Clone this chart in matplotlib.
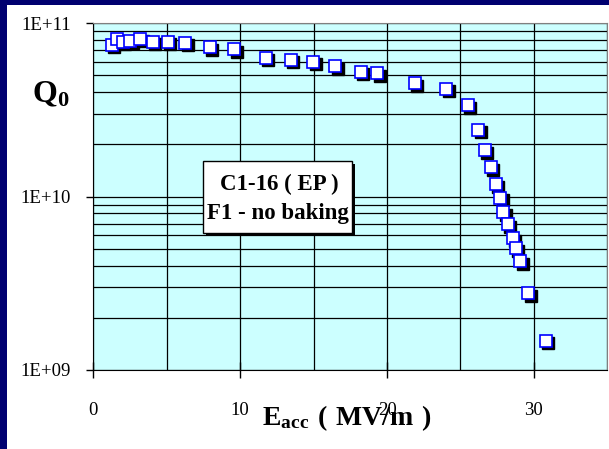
import matplotlib
matplotlib.use("Agg")
import matplotlib.pyplot as plt
import matplotlib.transforms as mtransforms
from matplotlib.patches import Rectangle
from matplotlib.ticker import LogLocator, FixedLocator, NullFormatter

plt.rcParams['font.family'] = ['Liberation Serif', 'DejaVu Serif']
plt.rcParams['mathtext.fontset'] = 'custom'
plt.rcParams['mathtext.rm'] = 'Liberation Serif'
plt.rcParams['mathtext.bf'] = 'Liberation Serif:bold'

# E_acc (MV/m) and Q0
eacc = [1.25, 1.64, 2.0, 2.5, 3.18, 4.05, 5.07, 6.27, 7.94, 9.61,
        11.75, 13.46, 14.98, 16.48, 18.2, 19.32, 21.89, 24.05, 25.5, 26.2,
        26.66, 27.05, 27.41, 27.71, 27.93, 28.23, 28.55, 28.77, 29.07, 29.62,
        30.8]
q0 = [7.50e10, 8.09e10, 7.83e10, 7.94e10, 8.15e10, 7.83e10, 7.83e10, 7.70e10, 7.27e10, 7.08e10,
      6.33e10, 6.17e10, 6.00e10, 5.67e10, 5.26e10, 5.15e10, 4.50e10, 4.18e10, 3.36e10, 2.43e10,
      1.85e10, 1.48e10, 1.18e10, 9.86e9, 8.15e9, 6.95e9, 5.74e9, 5.03e9, 4.23e9, 2.77e9,
      1.47e9]

xticks = [0, 10, 20, 30]
yticks = [1e9, 1e10, 1e11]
ylabels = ['1E+09', '1E+10', '1E+11']

W, H = 609, 449
fig = plt.figure(figsize=(W / 100, H / 100), dpi=100)
fig.patch.set_facecolor('#000070')
fig.patches.append(Rectangle((7 / W, 0), 1, 1 - 5 / H, transform=fig.transFigure,
                             facecolor='white', edgecolor='none', zorder=-1))

ax = fig.add_axes([93.3 / W, 1 - 370 / H, 514 / W, 346.7 / H])
ax.set_facecolor('#CCFFFF')
ax.set_yscale('log')
ax.set_xlim(0, 35)
ax.set_ylim(1e9, 1e11)

ax.xaxis.set_major_locator(FixedLocator(xticks))
ax.xaxis.set_minor_locator(FixedLocator([5, 15, 25, 35]))
ax.yaxis.set_major_locator(FixedLocator(yticks))
ax.set_yticklabels(ylabels)
ax.yaxis.set_minor_locator(LogLocator(base=10, subs=range(2, 10)))
ax.yaxis.set_minor_formatter(NullFormatter())

ax.grid(True, which='both', color='black', lw=0.9)
ax.set_axisbelow(True)
ax.tick_params(axis='x', which='major', direction='inout', length=12, width=1, pad=17, labelsize=13.5)
ax.tick_params(axis='x', which='minor', length=0)
ax.tick_params(axis='y', which='major', direction='out', length=5, width=1, pad=11, labelsize=13.5)
ax.tick_params(axis='y', which='minor', length=0)

for s in ['top', 'right']:
    ax.spines[s].set_color('#808080')
for s in ['left', 'bottom']:
    ax.spines[s].set_color('black')

shadow = mtransforms.offset_copy(ax.transData, fig=fig, x=2.5, y=-2.5, units='dots')
ax.plot(eacc, q0, 's', ms=8, mfc='black', mec='black', transform=shadow, zorder=3, clip_on=False)
ax.plot(eacc, q0, 's', ms=8, mfc='white', mec='#0000FF', mew=1.2, zorder=4, clip_on=False)

# annotation box with shadow
bx0, by0, bx1, by1 = 202.7, 161, 352.3, 233.3
fig.patches.append(Rectangle(((bx0 + 3) / W, 1 - (by1 + 3) / H), (bx1 - bx0) / W, (by1 - by0) / H,
                             transform=fig.transFigure, facecolor='black', edgecolor='none', zorder=5))
fig.patches.append(Rectangle((bx0 / W, 1 - by1 / H), (bx1 - bx0) / W, (by1 - by0) / H,
                             transform=fig.transFigure, facecolor='white', edgecolor='black',
                             lw=1, zorder=6))
fig.text((bx0 + bx1) / 2 / W + 0.003, 1 - 184 / H, 'C1-16 ( EP )', ha='center', va='center',
         fontsize=16.5, fontweight='bold', zorder=7)
fig.text((bx0 + bx1) / 2 / W, 1 - 214 / H, 'F1 - no baking', ha='center', va='center',
         fontsize=16.5, fontweight='bold', zorder=7)

fig.text(51 / W, 1 - 95 / H, r'$\mathbf{Q_0}$', ha='center', va='center', fontsize=23)
fig.text(347 / W, 1 - 418 / H, r'$\mathbf{E_{acc}}$' + r'$\mathbf{\ (\ MV/m\ )}$',
         ha='center', va='center', fontsize=20)

fig.savefig('out.png', dpi=100, facecolor=fig.get_facecolor())
